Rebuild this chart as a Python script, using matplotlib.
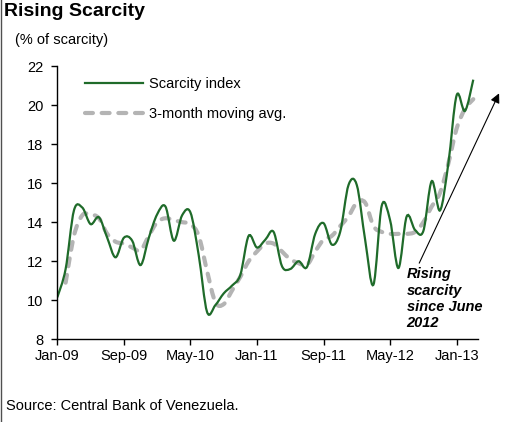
import numpy as np
import matplotlib
matplotlib.use('Agg')
import matplotlib.pyplot as plt
from matplotlib.path import Path
from matplotlib.patches import PathPatch
from matplotlib.lines import Line2D

''' Figure format '''
plt.rc('font', size=10.5, family='Liberation Sans')
plt.rc('axes', edgecolor='k', linewidth=1.0, labelcolor='k')

scarcityGreen = '#1f6b2a'
avgGrey = '#b4b4b4'

''' Data (monthly, Jan-09 .. Mar-13) '''
scarcity = [10.15, 11.6, 14.6, 14.75, 13.9, 14.25, 13.2, 12.2, 13.2, 13.05,
            11.8, 13.2, 14.4, 14.8, 13.05, 14.35, 14.5, 12.3, 9.4, 9.75,
            10.35, 10.75, 11.3, 13.3, 12.7, 13.1, 13.5, 11.75, 11.6, 12.0,
            11.7, 13.4, 13.95, 12.85, 13.5, 15.9, 15.9, 13.1, 10.8, 14.85,
            14.1, 11.65, 14.3, 13.6, 13.55, 16.1, 14.6, 17.0, 20.5, 19.7,
            21.3]
# moving average starts one month later
movingAvg = [10.9, 13.3, 14.35, 14.4, 14.2, 13.4, 13.0, 12.9, 12.7,
             12.55, 13.3, 14.0, 14.2, 14.1, 14.0, 13.9, 13.3, 11.5, 9.9,
             9.8, 10.5, 11.2, 12.0, 12.5, 12.9, 12.9, 12.5, 12.1, 11.9,
             11.8, 12.5, 13.1, 13.3, 13.8, 14.3, 15.0, 15.0, 13.8, 13.5,
             13.4, 13.4, 13.4, 13.5, 14.0, 14.8, 15.5, 17.0, 18.8, 19.8,
             20.3]
tickMonths = [0, 8, 16, 24, 32, 40, 48]
tickLabels = ['Jan-09', 'Sep-09', 'May-10', 'Jan-11', 'Sep-11', 'May-12', 'Jan-13']
yTicks = [8, 10, 12, 14, 16, 18, 20, 22]


def smoothPath(x, y):
    # Excel-like smoothed line: cubic bezier through every point
    x = np.asarray(x, float)
    y = np.asarray(y, float)
    n = len(x)
    verts = [(x[0], y[0])]
    codes = [Path.MOVETO]
    for i in range(n - 1):
        a = max(i - 1, 0)
        b = min(i + 2, n - 1)
        c1 = (x[i] + (x[i + 1] - x[a]) / 6, y[i] + (y[i + 1] - y[a]) / 6)
        c2 = (x[i + 1] - (x[b] - x[i]) / 6, y[i + 1] - (y[b] - y[i]) / 6)
        verts += [c1, c2, (x[i + 1], y[i + 1])]
        codes += [Path.CURVE4] * 3
    return Path(verts, codes)


fig = plt.figure(figsize=(5.08, 4.22), dpi=100)
ax = fig.add_axes([0.1128, 0.196, 0.9415 - 0.1128, 0.8436 - 0.196])

mScar = np.arange(len(scarcity))
mAvg = np.arange(1, len(movingAvg) + 1)

ax.add_patch(PathPatch(smoothPath(mAvg, movingAvg), fill=False, edgecolor=avgGrey,
                       lw=3.0, linestyle=(0, (1.9, 2.1)), capstyle='round'))
ax.add_patch(PathPatch(smoothPath(mScar, scarcity), fill=False,
                       edgecolor=scarcityGreen, lw=1.6))

ax.set_xlim(0, 50.6)
ax.set_ylim(8, 22)
ax.set_xticks(tickMonths)
ax.set_xticklabels(tickLabels)
ax.set_yticks(yTicks)
for s in ['top', 'right']:
    ax.spines[s].set_visible(False)
ax.tick_params(direction='out', length=4, width=1.0, pad=3)
ax.tick_params(axis='y', pad=6)

handles = [Line2D([], [], color=scarcityGreen, lw=1.6),
           Line2D([], [], color=avgGrey, lw=3.0, linestyle=(0, (1.9, 2.1)),
                  dash_capstyle='round')]
ax.legend(handles, ['Scarcity index', '3-month moving avg.'], loc='upper left',
          bbox_to_anchor=(0.066, 0.96), frameon=False, handlelength=4.0,
          handletextpad=0.35, labelspacing=1.1, borderpad=0, borderaxespad=0)

# annotation arrow + note
ax.annotate('', xy=(53.1, 20.6), xytext=(43.5, 11.9), annotation_clip=False,
            arrowprops=dict(arrowstyle='-|>', color='k', lw=0.8,
                            mutation_scale=14, shrinkA=0, shrinkB=0))
ax.text(42.0, 11.68, 'Rising\nscarcity\nsince June\n2012', fontsize=10.5,
        fontweight='bold', fontstyle='italic', ha='left', va='top', linespacing=1.2)

fig.text(0.008, 0.993, 'Rising Scarcity', fontsize=14, fontweight='bold', va='top')
fig.text(0.03, 0.905, '(% of scarcity)', fontsize=10.5, va='center')
fig.text(0.012, 0.038, 'Source: Central Bank of Venezuela.', fontsize=10.5, va='center')
fig.add_artist(Line2D([0.001, 0.001], [0, 1], transform=fig.transFigure,
                      color='#505050', lw=1.0))

fig.savefig('out.png', dpi=100)
